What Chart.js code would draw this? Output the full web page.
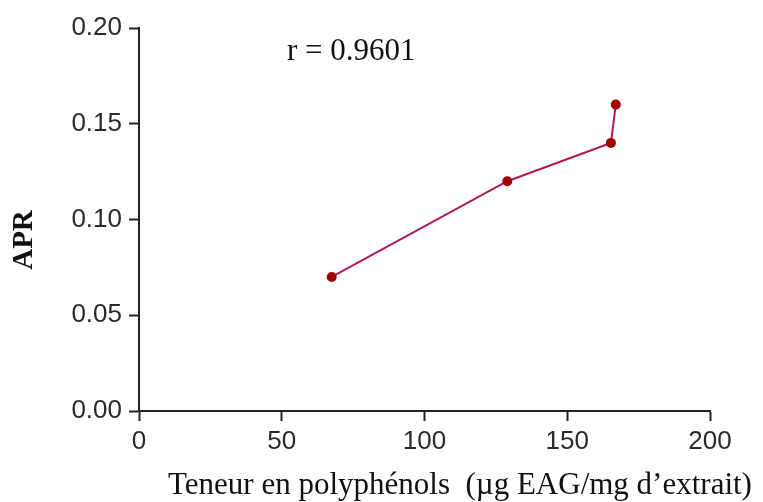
<!DOCTYPE html>
<html>
<head>
<meta charset="utf-8">
<script src="https://cdn.jsdelivr.net/npm/chart.js@4"></script>
<style>
html,body{margin:0;padding:0;background:#fff;}
#wrap{width:763px;height:502px;position:relative;}
</style>
</head>
<body>
<div id="wrap"><canvas id="c" width="763" height="502"></canvas></div>
<script>
const polyphenols = [67.5, 129, 165.3, 167];
const apr = [0.07, 0.12, 0.14, 0.16];
const xTicks = [0, 50, 100, 150, 200];
const yTicks = [0, 0.05, 0.10, 0.15, 0.20];
const xTitle = "Teneur en polyphénols  (µg EAG/mg d\u2019extrait)";
const yTitle = "APR";
const rLabel = "r = 0.9601";

const points = polyphenols.map((x, i) => ({x: x, y: apr[i]}));

const textPlugin = {
  id: 'texts',
  afterDraw(chart) {
    const ctx = chart.ctx;
    ctx.save();
    ctx.fillStyle = '#111';
    ctx.font = '31px "Liberation Serif", "Times New Roman", serif';
    ctx.textAlign = 'left';
    ctx.textBaseline = 'alphabetic';
    ctx.fillText(rLabel, 287, 60);
    ctx.font = '31px "Liberation Serif", "Times New Roman", serif';
    ctx.textAlign = 'center';
    ctx.fillText(xTitle, 460, 494);
    ctx.translate(25, 240);
    ctx.rotate(-Math.PI / 2);
    ctx.textBaseline = 'middle';
    ctx.font = 'bold 29px "Liberation Serif", "Times New Roman", serif';
    ctx.fillText(yTitle, 0, 0);
    ctx.restore();
  }
};

new Chart(document.getElementById('c'), {
  type: 'scatter',
  data: {
    datasets: [{
      data: points,
      showLine: true,
      borderColor: '#B0175E',
      borderWidth: 2,
      pointRadius: 4,
      pointHoverRadius: 4,
      pointBackgroundColor: '#A00000',
      pointBorderColor: '#A00000',
      pointStyle: 'circle'
    }]
  },
  options: {
    responsive: false,
    animation: false,
    layout: { padding: { top: 28, right: 53, left: 0, bottom: 0 } },
    plugins: { legend: { display: false }, tooltip: { enabled: false } },
    scales: {
      x: {
        type: 'linear',
        min: 0, max: 200,
        afterBuildTicks: s => { s.ticks = xTicks.map(v => ({value: v})); },
        afterFit: s => { s.height = 91; },
        grid: { drawOnChartArea: false, drawTicks: true, tickLength: 10, color: '#222', tickWidth: 2 },
        border: { display: true, color: '#222', width: 2 },
        ticks: {
          color: '#2a2a2a',
          padding: 5,
          maxRotation: 0,
          font: { family: '"Liberation Sans", Arial, sans-serif', size: 26 },
          callback: v => String(v)
        },
        title: { display: false }
      },
      y: {
        type: 'linear',
        min: 0, max: 0.2,
        afterBuildTicks: s => { s.ticks = yTicks.map(v => ({value: v})); },
        afterFit: s => { s.width = 139; },
        grid: { drawOnChartArea: false, drawTicks: true, tickLength: 10, color: '#222', tickWidth: 2 },
        border: { display: true, color: '#222', width: 2 },
        ticks: {
          color: '#2a2a2a',
          padding: 7,
          font: { family: '"Liberation Sans", Arial, sans-serif', size: 26 },
          callback: v => Number(v).toFixed(2)
        },
        title: { display: false }
      }
    }
  },
  plugins: [textPlugin]
});
</script>
</body>
</html>
